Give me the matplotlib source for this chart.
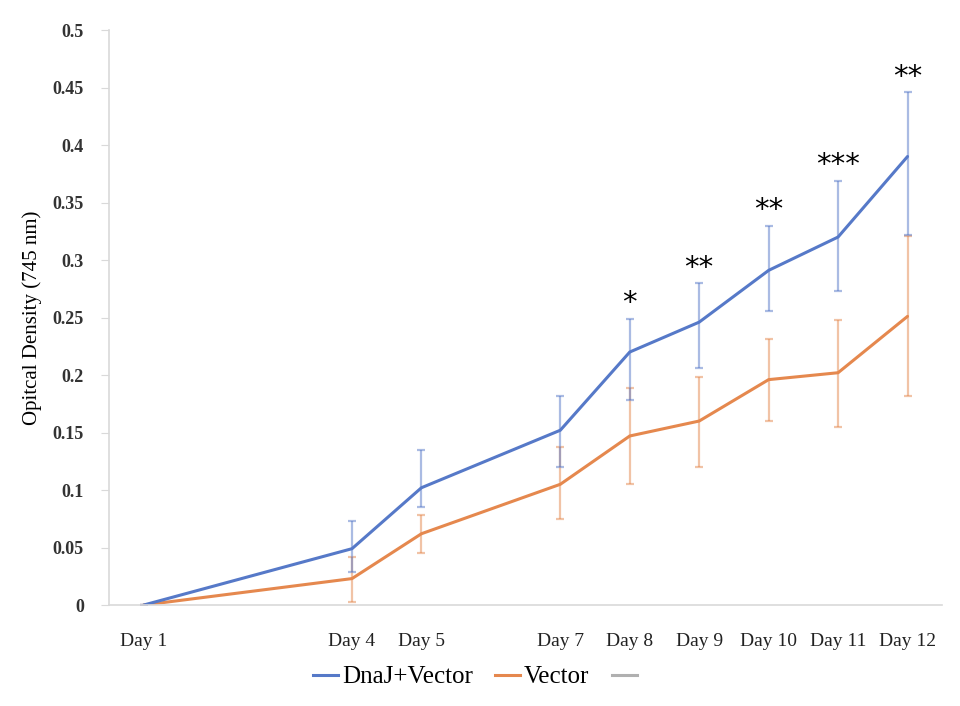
import matplotlib
matplotlib.use("Agg")
import matplotlib.pyplot as plt
from matplotlib.lines import Line2D
import numpy as np

# Day numbers on a linear (date-like) axis
days = [1, 4, 5, 7, 8, 9, 10, 11, 12]
day_labels = ["Day 1", "Day 4", "Day 5", "Day 7", "Day 8", "Day 9",
              "Day 10", "Day 11", "Day 12"]

# DnaJ+Vector optical density and error bars (lower, upper)
dnaj = [0.0, 0.049, 0.102, 0.152, 0.220, 0.246, 0.291, 0.320, 0.390]
dnaj_lo = [0.0, 0.020, 0.017, 0.032, 0.042, 0.040, 0.035, 0.047, 0.068]
dnaj_hi = [0.0, 0.024, 0.033, 0.030, 0.029, 0.034, 0.039, 0.049, 0.056]

# Vector optical density and error bars (lower, upper)
vector = [0.0, 0.023, 0.062, 0.105, 0.147, 0.160, 0.196, 0.202, 0.251]
vector_lo = [0.0, 0.020, 0.017, 0.030, 0.042, 0.040, 0.036, 0.047, 0.069]
vector_hi = [0.0, 0.019, 0.016, 0.032, 0.042, 0.038, 0.035, 0.046, 0.070]

# significance marks over DnaJ+Vector
sig = ["", "", "", "", "*", "**", "**", "***", "**"]

BLUE = "#5679C8"
ORANGE = "#E5884E"
GRAY = "#B0B0B0"


def main():
    fig = plt.figure(figsize=(9.6, 7.06), dpi=100)
    ax = fig.add_axes([0.1135, 0.143, 0.868, 0.8145])

    ax.errorbar(days, vector, yerr=[vector_lo, vector_hi], fmt="none",
                ecolor=ORANGE, alpha=0.5, elinewidth=1.6, capsize=3,
                capthick=1.6)
    ax.errorbar(days, dnaj, yerr=[dnaj_lo, dnaj_hi], fmt="none",
                ecolor=BLUE, alpha=0.5, elinewidth=1.6, capsize=3,
                capthick=1.6)
    ax.plot(days, vector, color=ORANGE, lw=2.2, solid_capstyle="round")
    ax.plot(days, dnaj, color=BLUE, lw=2.2, solid_capstyle="round")

    # stars above the upper error bar
    for d, v, h, s in zip(days, dnaj, dnaj_hi, sig):
        if s:
            ax.annotate(s, (d, v + h), xytext=(0, 1), textcoords="offset points",
                        ha="center", va="bottom", fontsize=21,
                        family="DejaVu Sans", color="black")

    ax.set_xlim(0.5, 12.5)
    ax.set_ylim(0, 0.5)
    ax.set_yticks(np.arange(0, 0.501, 0.05))
    ax.set_yticklabels(["0", "0.05", "0.1", "0.15", "0.2", "0.25", "0.3",
                        "0.35", "0.4", "0.45", "0.5"])
    ax.set_xticks(days)
    ax.set_xticklabels(day_labels)

    for sp in ["top", "right"]:
        ax.spines[sp].set_visible(False)
    for sp in ["left", "bottom"]:
        ax.spines[sp].set_color("#D9D9D9")
        ax.spines[sp].set_linewidth(1.2)
    ax.tick_params(axis="y", length=6, color="#D9D9D9", pad=12,
                   labelsize=13, labelcolor="#333333")
    ax.tick_params(axis="x", length=0, pad=20, labelsize=14,
                   labelcolor="#222222")
    for lab in ax.get_yticklabels():
        lab.set_family("Liberation Serif")
        lab.set_fontweight("bold")
    for lab in ax.get_xticklabels():
        lab.set_family("Liberation Serif")

    ax.set_ylabel("Opitcal Density (745 nm)", family="Liberation Serif",
                  fontsize=15)
    ax.yaxis.set_label_coords(-0.08, 0.5)

    handles = [Line2D([], [], color=BLUE, lw=2.2),
               Line2D([], [], color=ORANGE, lw=2.2),
               Line2D([], [], color=GRAY, lw=2.2)]
    fig.legend(handles, ["DnaJ+Vector", "Vector", " "], loc="center",
               bbox_to_anchor=(0.5, 0.041), ncol=3, frameon=False,
               prop={"family": "Liberation Serif", "size": 18},
               handlelength=1.0, handletextpad=0.15, columnspacing=0.9)

    fig.savefig("out.png", dpi=100)


if __name__ == "__main__":
    main()
